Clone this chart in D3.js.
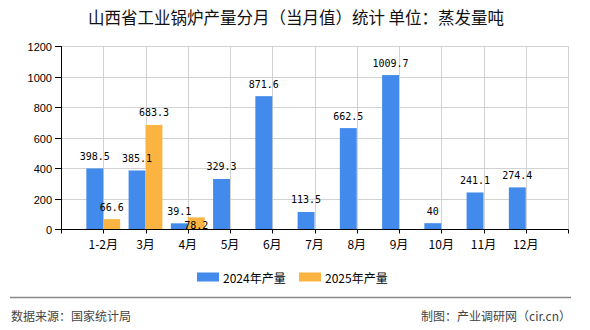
<!DOCTYPE html>
<html>
<head>
<meta charset="utf-8">
<script src="https://cdn.jsdelivr.net/npm/d3@7/dist/d3.min.js"></script>
<style>
  html, body { margin: 0; padding: 0; background: #fff; }
  svg { display: block; }
</style>
</head>
<body>
<script>
const categories = ["1-2月","3月","4月","5月","6月","7月","8月","9月","10月","11月","12月"];
const series2024 = [398.5,385.1,39.1,329.3,871.6,113.5,662.5,1009.7,40,241.1,274.4];
const series2025 = [66.6,683.3,78.2,null,null,null,null,null,null,null,null];
const seriesNames = ["2024年产量","2025年产量"];
const seriesColors = ["#428bec","#fbb441"];
const yTicks = [0,200,400,600,800,1000,1200];
const titleText = "山西省工业锅炉产量分月（当月值）统计 单位：蒸发量吨";
const sourceText = "数据来源：国家统计局";
const creditText = "制图：产业调研网（cir.cn）";

const W = 590, H = 330;
const plot = {left: 61, right: 568, top: 46, bottom: 229.3};

const svg = d3.select("body").append("svg").attr("width", W).attr("height", H);
svg.append("rect").attr("width", W).attr("height", H).attr("fill", "#fff");

const x = d3.scaleLinear().domain([0, categories.length + 1]).range([plot.left, plot.right]);
const y = d3.scaleLinear().domain([0, 1200]).range([plot.bottom, plot.top]);
const slot = x(1) - x(0);
const barW = slot * 0.4;

// title
svg.append("text").attr("x", 296).attr("y", 17).attr("text-anchor", "middle")
  .attr("dominant-baseline", "central")
  .style("font-family", "'Noto Sans CJK SC', sans-serif").style("font-size", "16.5px")
  .attr("fill", "#111").text(titleText);

// grid
const grid = svg.append("g");
yTicks.forEach(t => {
  grid.append("line").attr("x1", plot.left).attr("x2", plot.right)
    .attr("y1", Math.round(y(t)) + 0.5).attr("y2", Math.round(y(t)) + 0.5)
    .attr("stroke", "#d2d2d2").attr("stroke-width", 1);
});
d3.range(1, categories.length + 2).forEach(i => {
  grid.append("line").attr("x1", Math.round(x(i)) + 0.5).attr("x2", Math.round(x(i)) + 0.5)
    .attr("y1", plot.top).attr("y2", plot.bottom)
    .attr("stroke", "#d2d2d2").attr("stroke-width", 1);
});

// bars
const bars = svg.append("g");
const labels = [];
categories.forEach((c, i) => {
  const cx = x(i + 1);
  [series2024[i], series2025[i]].forEach((v, s) => {
    if (v == null) return;
    const bx = s === 0 ? cx - barW : cx;
    bars.append("rect").attr("x", bx).attr("y", y(v))
      .attr("width", barW).attr("height", plot.bottom - y(v))
      .attr("fill", seriesColors[s]);
    labels.push({i, s, v, cx: bx + barW / 2, top: y(v), cy: y(v) - 12});
  });
});

// label overlap avoidance: move 2nd series label below bar top if it collides
const lblFont = "'DejaVu Sans Mono', monospace";
const charW = 6.02, lblH = 10;
labels.forEach(l => { l.w = String(l.v).length * charW; });
labels.forEach(l => {
  if (l.s !== 1) return;
  const other = labels.find(o => o.i === l.i && o.s === 0);
  if (!other) return;
  const ox = Math.abs(l.cx - other.cx) < (l.w + other.w) / 2;
  const oy = Math.abs(l.cy - other.cy) < lblH;
  if (ox && oy) l.cy = l.top + 8;
});

// axes
const axes = svg.append("g");
axes.append("line").attr("x1", plot.left + 0.5).attr("x2", plot.left + 0.5)
  .attr("y1", plot.top).attr("y2", plot.bottom + 0.5).attr("stroke", "#000");
yTicks.forEach(t => {
  const yy = Math.round(y(t)) + 0.5;
  axes.append("line").attr("x1", plot.left - 6).attr("x2", plot.left)
    .attr("y1", yy).attr("y2", yy).attr("stroke", "#000");
  axes.append("text").attr("x", 52).attr("y", yy).attr("text-anchor", "end")
    .attr("dominant-baseline", "central")
    .style("font-family", "'Liberation Sans', Arial, sans-serif").style("font-size", "11px")
    .attr("fill", "#000").text(t);
});
const by = Math.round(plot.bottom) + 0.5;
axes.append("line").attr("x1", plot.left).attr("x2", plot.right + 0.5)
  .attr("y1", by).attr("y2", by).attr("stroke", "#000");
d3.range(0, categories.length + 2).forEach(i => {
  const xx = Math.round(x(i)) + 0.5;
  axes.append("line").attr("x1", xx).attr("x2", xx)
    .attr("y1", by).attr("y2", by + 4).attr("stroke", "#000");
});
categories.forEach((c, i) => {
  axes.append("text").attr("x", x(i + 1)).attr("y", 243).attr("text-anchor", "middle")
    .attr("dominant-baseline", "central")
    .style("font-family", "'Noto Sans CJK SC', sans-serif").style("font-size", "12px")
    .attr("fill", "#000").text(c);
});

// value labels
svg.append("g").selectAll("text").data(labels).join("text")
  .attr("x", d => d.cx).attr("y", d => d.cy).attr("text-anchor", "middle")
  .attr("dominant-baseline", "central")
  .style("font-family", lblFont).style("font-size", "10px")
  .attr("fill", "#000").text(d => d.v);

// legend
const legend = svg.append("g");
const legX = [197, 299];
seriesNames.forEach((n, s) => {
  legend.append("rect").attr("x", legX[s]).attr("y", 272.5).attr("width", 22).attr("height", 9)
    .attr("fill", seriesColors[s]);
  legend.append("text").attr("x", legX[s] + 26).attr("y", 277).attr("dominant-baseline", "central")
    .style("font-family", "'Noto Sans CJK SC', sans-serif").style("font-size", "12px")
    .attr("fill", "#000").text(n);
});

// footer
svg.append("line").attr("x1", 10).attr("x2", 571).attr("y1", 297.5).attr("y2", 297.5)
  .attr("stroke", "#888").attr("stroke-width", 1.5);
svg.append("text").attr("x", 11).attr("y", 315).attr("dominant-baseline", "central")
  .style("font-family", "'Noto Sans CJK SC', sans-serif").style("font-size", "12px")
  .attr("fill", "#444").text(sourceText);
svg.append("text").attr("x", 571).attr("y", 315).attr("text-anchor", "end").attr("dominant-baseline", "central")
  .style("font-family", "'Noto Sans CJK SC', sans-serif").style("font-size", "12px")
  .attr("fill", "#444").text(creditText);
</script>
</body>
</html>
